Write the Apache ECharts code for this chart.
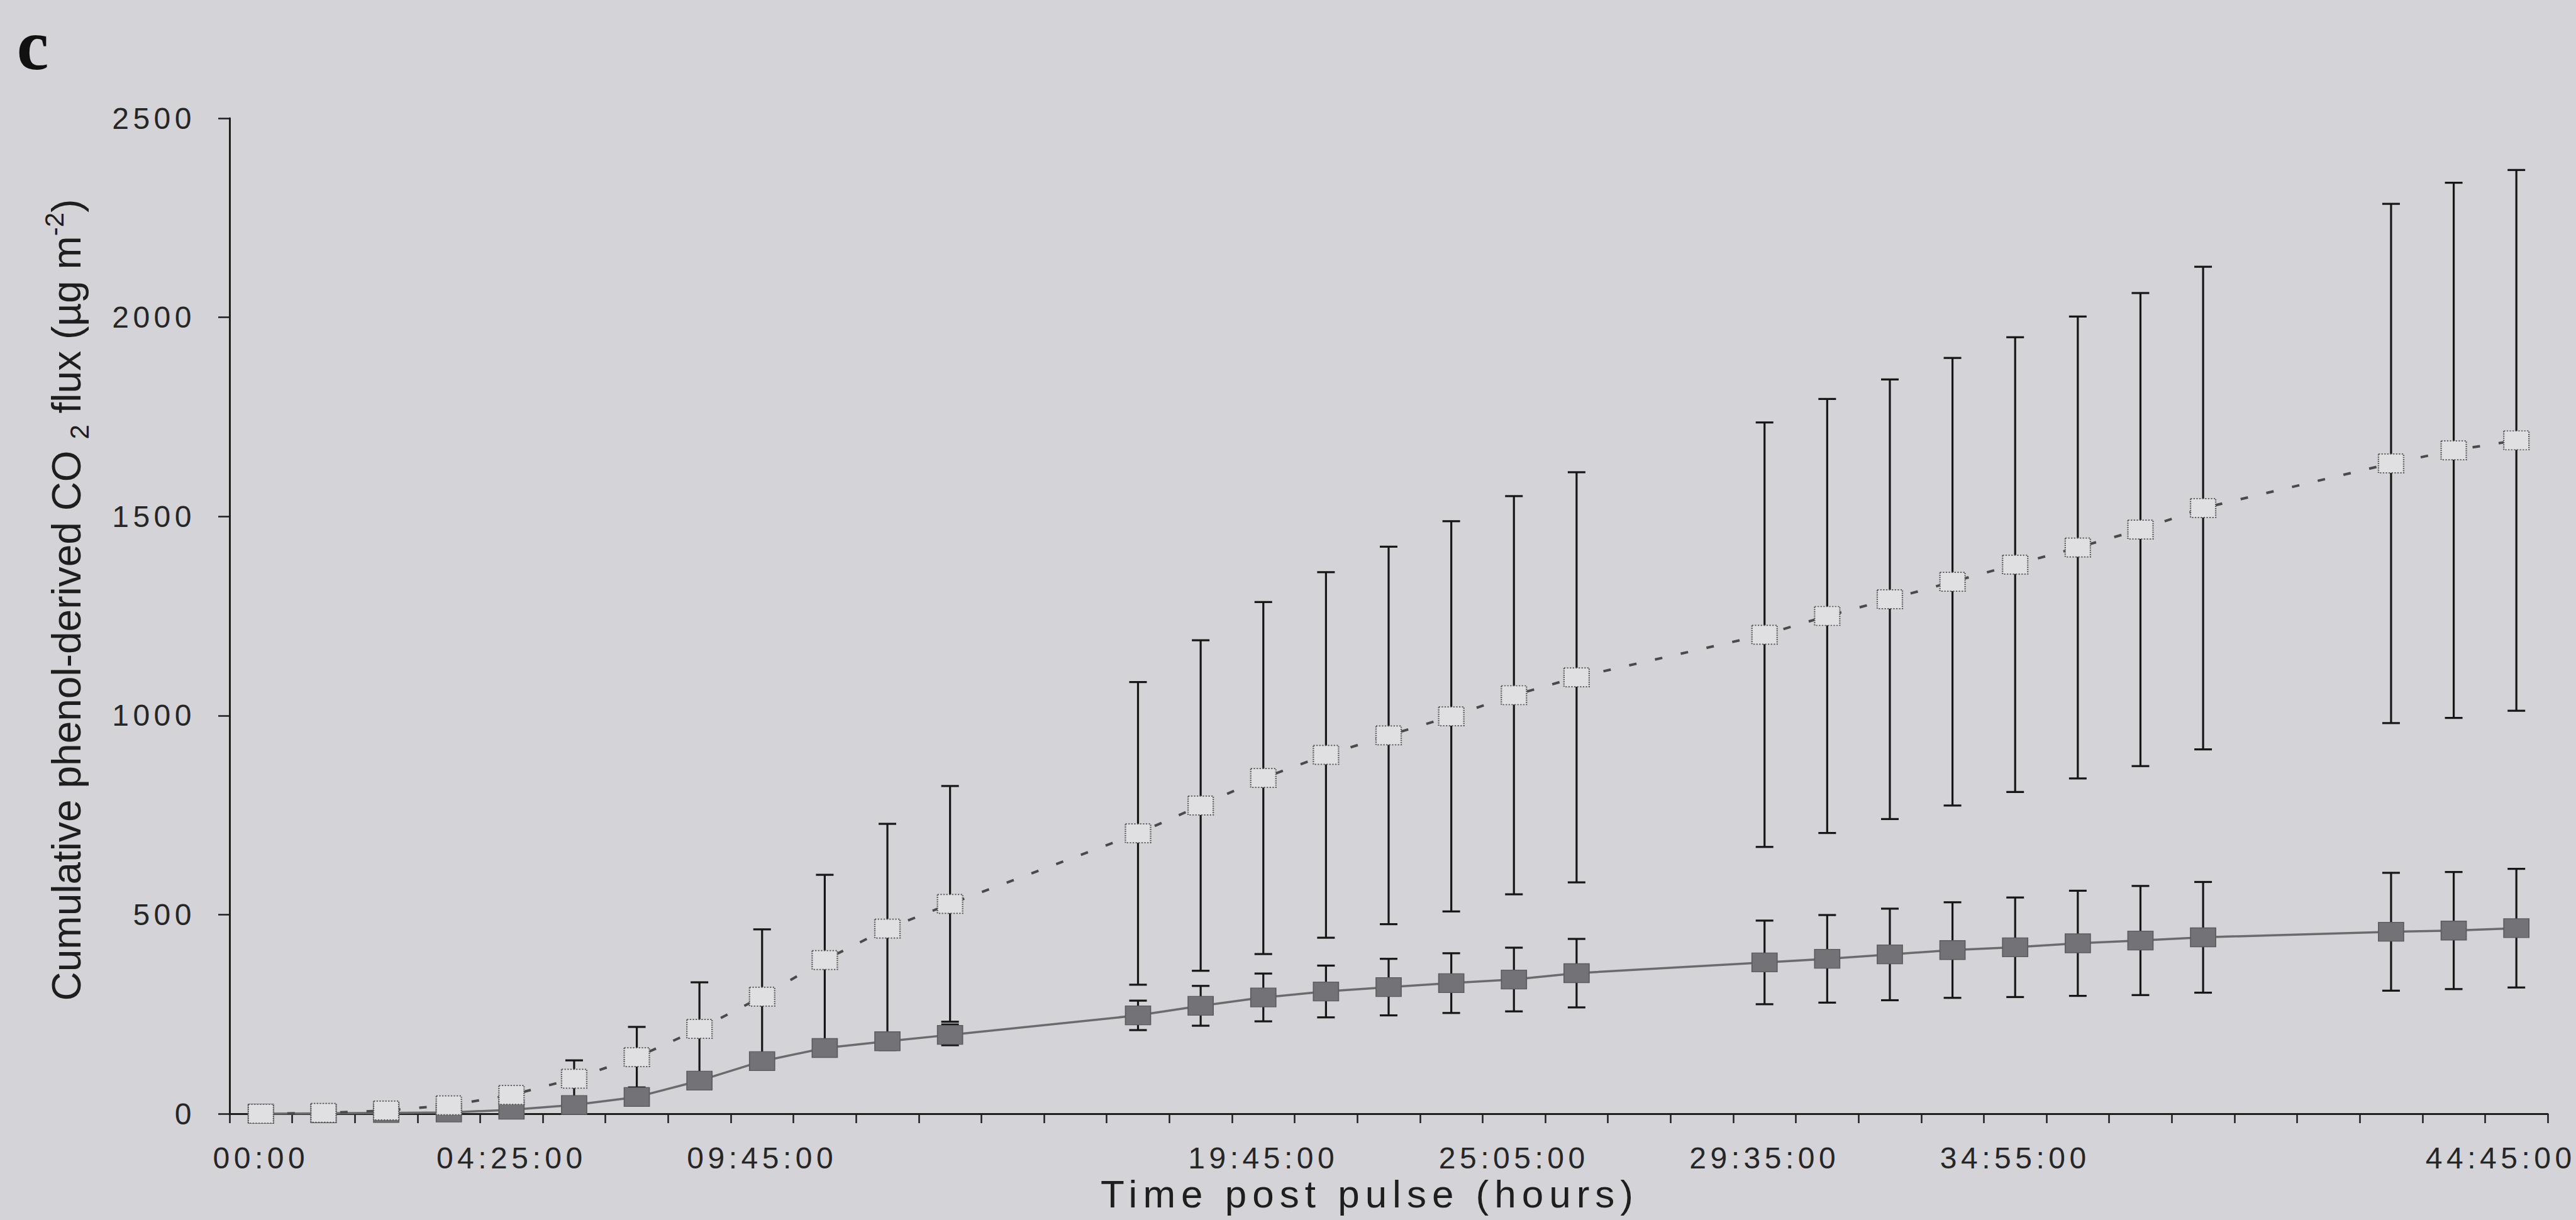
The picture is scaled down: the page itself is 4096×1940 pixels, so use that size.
<!DOCTYPE html>
<html><head><meta charset="utf-8">
<script src="https://cdn.jsdelivr.net/npm/echarts@6/dist/echarts.min.js"></script>
<style>
html,body{margin:0;padding:0;background:#d3d3d8;overflow:hidden;}
#chart{width:4096px;height:1940px;}
#chart text[style*="lsp"]{letter-spacing:6.5px;}
#chart text[style*="lxt"]{letter-spacing:9px;}
</style></head><body><div id="chart"></div>
<script>
// Category labels (only some categories carry a printed label)
const categories = ['00:00','','','','04:25:00','','','','09:45:00','','','','','','','',
  '19:45:00','','','','25:05:00','','','','29:35:00','','','','34:55:00','','','','','','','','44:45:00'];

// Open-square series (dotted line): means and error half-widths
const openMeans = [0, 2, 8, 21, 47, 88, 142, 213, 294, 386, 465, 527, null, null,
  704, 774, 843, 901, 950, 998, 1051, 1096, null, null,
  1203, 1250, 1292, 1336, 1379, 1422, 1467, 1521, null, null, 1633, 1666, 1691];
const openErrors = [0, 2, 4, 8, 20, 46, 76, 117, 169, 214, 263, 296, null, null,
  380, 415, 442, 459, 474, 490, 500, 515, null, null,
  533, 545, 552, 562, 571, 580, 594, 606, null, null, 652, 672, 679];

// Filled-square series (solid line)
const filledMeans = [0, 1, 2, 3, 10, 22, 42, 83, 132, 165, 182, 198, null, null,
  247, 271, 292, 307, 318, 328, 337, 353, null, null,
  380, 389, 400, 411, 418, 428, 435, 443, null, null, 457, 460, 466];
const filledErrors = [0, 0, 1, 1, 3, 5, 8, 12, 15, 18, 22, 26, null, null,
  37, 50, 60, 65, 71, 75, 80, 86, null, null,
  105, 110, 115, 120, 125, 132, 137, 139, null, null, 148, 147, 149];

const yMin = 0, yMax = 2500, yStep = 500;

function errData(means, errs) {
  const out = [];
  means.forEach((m, i) => { if (m !== null) out.push([i, m - errs[i], m + errs[i]]); });
  return out;
}
function errRender(params, api) {
  const x = api.value(0);
  const lo = api.coord([x, api.value(1)]);
  const hi = api.coord([x, api.value(2)]);
  const h = 14;
  const st = {stroke: '#161616', lineWidth: 3.2, fill: null};
  return {type: 'group', children: [
    {type: 'line', shape: {x1: lo[0], y1: lo[1], x2: hi[0], y2: hi[1]}, style: st},
    {type: 'line', shape: {x1: hi[0] - h, y1: hi[1], x2: hi[0] + h, y2: hi[1]}, style: st},
    {type: 'line', shape: {x1: lo[0] - h, y1: lo[1], x2: lo[0] + h, y2: lo[1]}, style: st}
  ]};
}

const tickFont = "'Liberation Sans', lsp";
const lastIdx = categories.length - 1;
const chart = echarts.init(document.getElementById('chart'), null, {renderer: 'svg'});
chart.setOption({
  animation: false,
  backgroundColor: '#d3d3d8',
  grid: {left: 365, right: 45, top: 188, bottom: 169},
  xAxis: {
    type: 'category', data: categories, boundaryGap: true,
    axisLine: {lineStyle: {color: '#1e1e1e', width: 3}},
    axisTick: {show: true, interval: 0, length: 15, lineStyle: {color: '#1e1e1e', width: 2.5}},
    axisLabel: {interval: (i, v) => v !== '', margin: 46, fontSize: 48, fontFamily: tickFont, color: '#262626',
      formatter: (v, i) => i === lastIdx ? '{last|' + v + '}' : v,
      rich: {last: {fontSize: 48, fontFamily: tickFont, color: '#262626', padding: [0, 50, 0, 0]}}},
    splitLine: {show: false}
  },
  yAxis: {
    type: 'value', min: yMin, max: yMax, interval: yStep,
    axisLine: {show: true, lineStyle: {color: '#1e1e1e', width: 3}},
    axisTick: {show: true, length: 18, lineStyle: {color: '#1e1e1e', width: 2.5}},
    axisLabel: {margin: 54, fontSize: 48, fontFamily: tickFont, color: '#262626', formatter: v => String(v)},
    splitLine: {show: false}
  },
  graphic: [
    {type: 'text', x: 52, y: 14, style: {text: 'c', font: "bold 114px 'Liberation Serif'", fill: '#111', align: 'center', verticalAlign: 'top', textAlign: 'center', textVerticalAlign: 'top'}},
    {type: 'text', x: 2178, y: 1898, style: {text: 'Time post pulse (hours)', font: "62px 'Liberation Sans', lxt", fill: '#1e1e1e', align: 'center', verticalAlign: 'middle', textAlign: 'center', textVerticalAlign: 'middle'}},
    {type: 'text', x: 106, y: 954, rotation: Math.PI / 2,
      style: {text: 'Cumulative phenol-derived CO {sub|2} flux (µg m{sup|-2})', fontSize: 64, fontFamily: "'Liberation Sans'", fill: '#1e1e1e',
        align: 'center', verticalAlign: 'middle', textAlign: 'center', textVerticalAlign: 'middle',
        rich: {
          sub: {fontSize: 42, fontFamily: "'Liberation Sans'", fill: '#1e1e1e', verticalAlign: 'bottom', lineHeight: 82},
          sup: {fontSize: 42, fontFamily: "'Liberation Sans'", fill: '#1e1e1e', verticalAlign: 'top', lineHeight: 82}
        }}}
  ],
  series: [
    {type: 'custom', name: 'filledErr', renderItem: errRender, data: errData(filledMeans, filledErrors), encode: {x: 0, y: [1, 2]}, z: 1, silent: true},
    {type: 'custom', name: 'openErr', renderItem: errRender, data: errData(openMeans, openErrors), encode: {x: 0, y: [1, 2]}, z: 1, silent: true},
    {type: 'line', name: 'filled', data: filledMeans, connectNulls: true, showAllSymbol: true,
      symbol: 'rect', symbolSize: [40, 30],
      lineStyle: {color: '#6b6b6e', width: 3.5},
      itemStyle: {color: '#727277', borderColor: '#5c5c60', borderWidth: 1.5}, z: 3},
    {type: 'line', name: 'open', data: openMeans, connectNulls: true, showAllSymbol: true,
      symbol: 'rect', symbolSize: [40, 30],
      lineStyle: {color: '#4a4a4a', width: 4, type: [12, 30]},
      itemStyle: {color: '#e0e0e3', borderColor: '#555', borderWidth: 2, borderType: 'dotted'}, z: 4}
  ]
});
</script></body></html>
